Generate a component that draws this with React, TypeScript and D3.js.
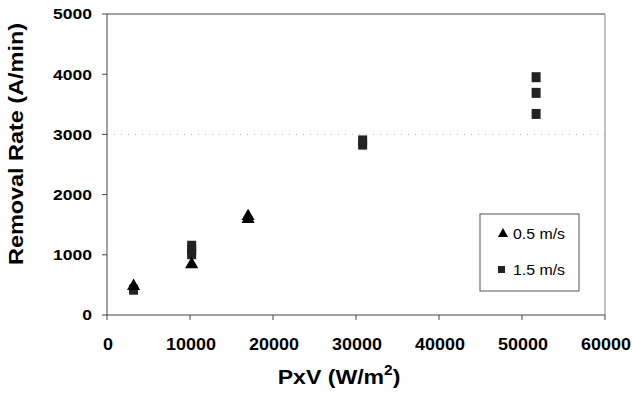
import React from "react";
import * as d3 from "d3";

// Removal rate vs. PxV for two platen velocities
const slowX = [3200, 10200, 17000, 17000];
const slowY = [480, 840, 1640, 1590];
const fastX = [3200, 10200, 10200, 10200, 30800, 30800, 51700, 51700, 51700];
const fastY = [420, 1010, 1080, 1150, 2830, 2900, 3950, 3690, 3340];
const xTicks = [0, 10000, 20000, 30000, 40000, 50000, 60000];
const yTicks = [0, 1000, 2000, 3000, 4000, 5000];
const seriesNames = ["0.5 m/s", "1.5 m/s"];

const W = 632;
const H = 397;
const m = { left: 107, right: 605, top: 14, bottom: 315 };

export default function App() {
  const x = d3.scaleLinear().domain([0, 60000]).range([m.left, m.right]);
  const y = d3.scaleLinear().domain([0, 5000]).range([m.bottom, m.top]);
  const tri = d3.symbol().type(d3.symbolTriangle).size(75)();
  const legendTri = d3.symbol().type(d3.symbolTriangle).size(45)();
  const axisColor = "#444";
  const font = "Liberation Sans, Arial, sans-serif";

  return (
    <svg
      width={W}
      height={H}
      style={{ position: "absolute", left: 0, top: 0, background: "#fff" }}
      fontFamily={font}
    >
      {/* faint gridline */}
      <line
        x1={m.left}
        x2={m.right}
        y1={y(3000)}
        y2={y(3000)}
        stroke="#bbb"
        strokeWidth={1}
        strokeDasharray="1 6"
      />
      {/* plot frame */}
      <line x1={m.left} x2={m.right} y1={m.top} y2={m.top} stroke={axisColor} strokeWidth={1} />
      <line x1={m.right} x2={m.right} y1={m.top} y2={m.bottom} stroke="#888" strokeWidth={1} />
      <line x1={m.left} x2={m.left} y1={m.top} y2={m.bottom} stroke={axisColor} strokeWidth={1} />
      <line x1={m.left} x2={m.right} y1={m.bottom} y2={m.bottom} stroke={axisColor} strokeWidth={1} />

      {/* y axis */}
      {yTicks.map((t) => (
        <g key={"y" + t}>
          <line x1={m.left - 5} x2={m.left} y1={y(t)} y2={y(t)} stroke={axisColor} />
          <text
            transform={`translate(92, ${y(t)}) scale(1.17, 1)`}
            dy="0.36em"
            textAnchor="end"
            fontSize={15}
            fontWeight="bold"
            fill="#000"
          >
            {t}
          </text>
        </g>
      ))}

      {/* x axis */}
      {xTicks.map((t) => (
        <g key={"x" + t}>
          <line x1={x(t)} x2={x(t)} y1={m.bottom} y2={m.bottom + 5} stroke={axisColor} />
          <text
            transform={`translate(${x(t) + 1}, 350) scale(1.09, 1)`}
            textAnchor="middle"
            fontSize={16.5}
            fontWeight="bold"
            fill="#000"
          >
            {t}
          </text>
        </g>
      ))}

      {/* axis titles */}
      <text
        transform="translate(339, 384) scale(1.1, 1)"
        textAnchor="middle"
        fontSize={21}
        fontWeight="bold"
        fill="#000"
      >
        PxV (W/m
        <tspan dy={-9} fontSize={14}>
          2
        </tspan>
        <tspan dy={9}>)</tspan>
      </text>
      <text
        transform="translate(23, 144) rotate(-90)"
        textAnchor="middle"
        fontSize={21}
        fontWeight="bold"
        fill="#000"
        textLength={242}
        lengthAdjust="spacingAndGlyphs"
      >
        Removal Rate (A/min)
      </text>

      {/* 1.5 m/s squares */}
      {fastX.map((v, i) => (
        <rect
          key={"f" + i}
          x={x(v) - 4.5}
          y={y(fastY[i]) - 5}
          width={9}
          height={10}
          fill="#222"
        />
      ))}
      {/* 0.5 m/s triangles */}
      {slowX.map((v, i) => (
        <path key={"s" + i} d={tri!} transform={`translate(${x(v)},${y(slowY[i])})`} fill="#000" />
      ))}

      {/* legend */}
      <rect x={480} y={214} width={99} height={77} fill="#fff" stroke="#555" strokeWidth={1} />
      <path d={legendTri!} transform="translate(503,234)" fill="#000" />
      <text
        x={513}
        y={234}
        dy="0.36em"
        fontSize={14}
        fill="#000"
        textLength={52}
        lengthAdjust="spacingAndGlyphs"
      >
        {seriesNames[0]}
      </text>
      <rect x={498} y={266} width={7} height={7} fill="#222" />
      <text
        x={513}
        y={270}
        dy="0.36em"
        fontSize={14}
        fill="#000"
        textLength={52}
        lengthAdjust="spacingAndGlyphs"
      >
        {seriesNames[1]}
      </text>
    </svg>
  );
}
